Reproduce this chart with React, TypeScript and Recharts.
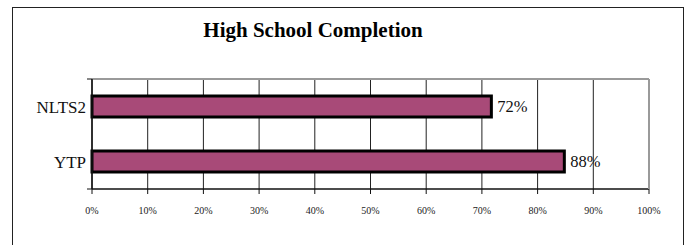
import React from "react";
import {
  BarChart,
  Bar,
  XAxis,
  YAxis,
  CartesianGrid,
  LabelList,
} from "recharts";

const categories = ["NLTS2", "YTP"];
const completion = [71.7, 84.8];
const valueLabels = ["72%", "88%"];
const xTicks = [0, 10, 20, 30, 40, 50, 60, 70, 80, 90, 100];
const bandEdges = [0, 1, 2];

const data = categories.map((name, i) => ({
  name,
  value: completion[i],
  label: valueLabels[i],
}));

const serif = "'Liberation Serif', 'Times New Roman', serif";

export default function App() {
  return (
    <div
      style={{
        position: "absolute",
        left: 0,
        top: 0,
        width: 689,
        height: 245,
        overflow: "hidden",
        background: "#fff",
        fontFamily: serif,
      }}
    >
      <div
        style={{
          position: "absolute",
          left: 12,
          top: 7,
          width: 670,
          height: 250,
          border: "1.5px solid #222",
          borderBottom: "none",
        }}
      />
      <div
        style={{
          position: "absolute",
          left: 0,
          top: 18,
          width: 626,
          textAlign: "center",
          fontWeight: "bold",
          fontSize: 21,
          color: "#000",
        }}
      >
        High School Completion
      </div>
      <div style={{ position: "absolute", left: 0, top: 0 }}>
        <BarChart
          width={689}
          height={245}
          data={data}
          layout="vertical"
          margin={{ top: 78, right: 39, bottom: 26, left: 0 }}
          barCategoryGap="31%"
        >
          <CartesianGrid horizontal={false} stroke="#222" strokeWidth={1} />
          <XAxis
            type="number"
            domain={[0, 100]}
            ticks={xTicks}
            tickFormatter={(v: number) => `${v}%`}
            height={30}
            tickSize={5}
            tickMargin={13}
            axisLine={{ stroke: "#111", strokeWidth: 1.5 }}
            tickLine={{ stroke: "#111", strokeWidth: 1 }}
            tick={{ fontSize: 10, fill: "#222", fontFamily: serif }}
            interval={0}
          />
          <XAxis
            xAxisId="top"
            orientation="top"
            type="number"
            domain={[0, 100]}
            height={1}
            tick={false}
            tickLine={false}
            axisLine={{ stroke: "#9a9a9a", strokeWidth: 2 }}
          />
          <YAxis
            yAxisId="cat"
            type="category"
            dataKey="name"
            width={86}
            tickSize={0}
            tickMargin={0}
            tickLine={false}
            axisLine={false}
            tick={{ fontSize: 17, fill: "#111", fontFamily: serif }}
          />
          <YAxis
            type="number"
            domain={[0, 2]}
            ticks={bandEdges}
            width={6}
            tickSize={5}
            tickFormatter={() => ""}
            axisLine={{ stroke: "#111", strokeWidth: 1.5 }}
            tickLine={{ stroke: "#111", strokeWidth: 1 }}
          />
          <YAxis
            yAxisId="right"
            orientation="right"
            type="number"
            domain={[0, 2]}
            width={1}
            tick={false}
            tickLine={false}
            axisLine={{ stroke: "#9a9a9a", strokeWidth: 2 }}
          />
          <Bar
            yAxisId="cat"
            dataKey="value"
            fill="#A84A78"
            stroke="#000"
            strokeWidth={3}
            isAnimationActive={false}
          >
            <LabelList
              dataKey="label"
              position="right"
              offset={6}
              style={{ fontSize: 16.5, fill: "#111", fontFamily: serif }}
            />
          </Bar>
        </BarChart>
      </div>
    </div>
  );
}
